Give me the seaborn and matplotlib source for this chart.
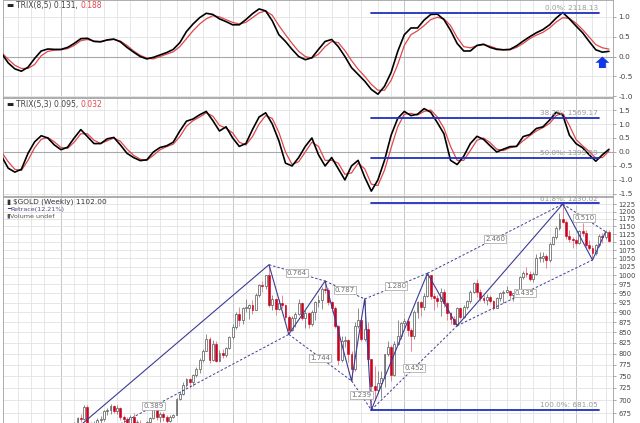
import numpy as np
import pandas as pd
import matplotlib
matplotlib.use('Agg')
import matplotlib.pyplot as plt
import matplotlib.dates as mdates
from matplotlib.ticker import NullLocator, NullFormatter
import seaborn as sns

sns.set_theme(style='white')
plt.rcParams['font.family'] = ['DejaVu Sans']

# ---------------- data ----------------
last_week = '2010-03-12'   # weekly bars, week ending Friday, Feb 2007 .. Mar 2010

opens = [
    650, 652, 666, 664, 686, 645, 652, 655, 661, 664, 678, 680, 689, 679, 684, 668, 664,
    656, 668, 655, 656, 654, 648, 658, 666, 682, 667, 673, 668, 660, 668, 672, 702, 712,
    731, 743, 737, 753, 765, 785, 806, 834, 786, 823, 784, 802, 797, 812,
    838, 862, 895, 881, 910, 912, 919, 906, 946, 973, 971, 1000, 920, 935, 908, 925, 918,
    888, 855, 885, 895, 925, 885, 898, 871, 902, 928, 932, 963, 958, 928, 912, 865, 786,
    829, 832, 800, 765, 865, 880, 835, 859, 787, 730, 720, 736, 745, 798, 814, 752, 823, 840,
    872, 878, 855, 840, 900, 927, 914, 942, 1000, 943, 938, 930, 955, 925, 898, 883, 870,
    912, 887, 915, 930, 955, 978, 955, 937, 933, 940, 930, 912, 937, 950, 955, 957, 946,
    950, 955, 996, 1006, 1003, 990, 1004, 1050, 1052, 1056, 1045, 1095, 1115, 1145, 1175,
    1165, 1120, 1110,
    1105, 1097, 1136, 1130, 1092, 1082, 1065, 1090, 1118, 1116, 1133]
highs = [
    657, 668, 673, 690, 690, 657, 660, 665, 669, 680, 684, 692, 691, 690, 687, 672, 667,
    671, 675, 662, 661, 656, 660, 668, 685, 686, 676, 677, 671, 672, 674, 705, 718, 738,
    747, 746, 755, 770, 790, 810, 845, 838, 832, 830, 808, 810, 814, 842,
    870, 900, 914, 915, 934, 922, 932, 952, 975, 983, 1002, 1031, 945, 938, 935, 946, 922,
    894, 890, 900, 936, 928, 905, 900, 907, 930, 946, 967, 988, 965, 930, 916, 867, 841,
    840, 835, 805, 875, 910, 885, 935, 875, 788, 772, 760, 760, 800, 830, 820, 830, 880, 875,
    885, 882, 860, 905, 930, 930, 950, 1007, 1002, 950, 945, 965, 962, 926, 900, 890, 915,
    915, 918, 933, 960, 982, 990, 963, 945, 947, 945, 932, 940, 955, 960, 970, 960, 952,
    960, 998, 1012, 1025, 1013, 1010, 1062, 1070, 1070, 1062, 1100, 1120, 1150, 1196, 1226,
    1170, 1138, 1115,
    1112, 1140, 1161, 1140, 1105, 1090, 1095, 1125, 1128, 1140, 1137]
lows = [
    645, 650, 658, 662, 637, 640, 645, 650, 655, 660, 672, 674, 675, 673, 662, 654, 652,
    653, 648, 650, 650, 640, 646, 656, 663, 662, 658, 660, 650, 658, 665, 671, 700, 710,
    728, 725, 730, 748, 757, 780, 805, 778, 783, 780, 783, 790, 792, 810,
    834, 858, 865, 870, 900, 884, 895, 905, 941, 955, 962, 915, 905, 893, 905, 910, 880,
    845, 853, 862, 893, 880, 860, 860, 865, 880, 915, 908, 950, 918, 900, 860, 775, 780,
    815, 780, 740, 760, 860, 828, 830, 780, 681, 700, 715, 705, 728, 795, 740, 750, 820, 835,
    860, 841, 805, 835, 885, 890, 905, 940, 935, 905, 915, 890, 915, 880, 870, 868, 866,
    882, 885, 908, 925, 950, 940, 930, 925, 920, 925, 905, 910, 930, 925, 950, 935, 930,
    940, 945, 990, 995, 985, 980, 1000, 1040, 1040, 1020, 1040, 1090, 1110, 1140, 1160,
    1110, 1100, 1080,
    1090, 1095, 1120, 1085, 1075, 1045, 1060, 1085, 1098, 1110, 1100]
closes = [
    652, 666, 664, 686, 645, 652, 655, 661, 664, 678, 680, 689, 679, 684, 668, 664, 656,
    668, 655, 656, 654, 648, 658, 666, 682, 667, 673, 668, 660, 668, 672, 702, 712, 731,
    743, 737, 753, 765, 785, 806, 834, 786, 823, 784, 802, 797, 812, 838,
    862, 895, 881, 910, 912, 919, 906, 946, 973, 971, 1000, 920, 935, 908, 925, 918, 888,
    855, 885, 895, 925, 885, 898, 871, 902, 928, 932, 963, 958, 928, 912, 865, 786, 829,
    832, 800, 765, 865, 880, 835, 859, 787, 730, 720, 736, 745, 798, 814, 752, 823, 840, 872,
    878, 855, 840, 900, 927, 914, 942, 1000, 943, 938, 930, 955, 925, 898, 883, 870, 912,
    887, 915, 930, 955, 978, 955, 937, 933, 940, 930, 912, 937, 950, 955, 957, 946, 950,
    955, 996, 1006, 1003, 990, 1004, 1050, 1052, 1056, 1045, 1095, 1115, 1145, 1175, 1165,
    1120, 1110, 1105,
    1097, 1136, 1130, 1092, 1082, 1065, 1090, 1118, 1116, 1133, 1102]

# TRIX readings, one every two weeks, ending at the last bar
trix85 = [
    0.25, 0.08, -0.16, -0.31, -0.37, -0.27, -0.05, 0.14, 0.19, 0.18,
    0.18, 0.23, 0.33, 0.45, 0.46, 0.38, 0.37, 0.42, 0.44, 0.37,
    0.23, 0.11, 0.0, -0.06, -0.02, 0.04, 0.10, 0.18, 0.35, 0.63,
    0.82, 0.98, 1.09, 1.06, 0.95, 0.88, 0.80, 0.80, 0.93, 1.08,
    1.20, 1.15, 0.90, 0.55, 0.38, 0.18, 0.0, -0.08, -0.03, 0.18,
    0.38, 0.43, 0.25, 0.0, -0.28, -0.45, -0.62, -0.83, -0.95, -0.75,
    -0.40, 0.13, 0.55, 0.72, 0.72, 0.92, 1.06, 1.07, 0.93, 0.66,
    0.33, 0.14, 0.14, 0.28, 0.31, 0.23, 0.18, 0.17, 0.18, 0.27,
    0.39, 0.50, 0.60, 0.68, 0.80, 0.97, 1.11, 0.95, 0.77, 0.60,
    0.38, 0.17, 0.11, 0.131]
trix85_signal = [
    0.22, 0.10, -0.07, -0.22, -0.30, -0.30, -0.20, 0.02, 0.13, 0.16,
    0.17, 0.20, 0.28, 0.40, 0.43, 0.39, 0.38, 0.41, 0.43, 0.39,
    0.28, 0.14, 0.03, -0.04, -0.06, 0.0, 0.06, 0.12, 0.25, 0.45,
    0.65, 0.82, 0.95, 1.03, 1.0, 0.93, 0.86, 0.82, 0.86, 0.98,
    1.10, 1.15, 1.04, 0.78, 0.55, 0.33, 0.13, 0.0, -0.04, 0.06,
    0.25, 0.38, 0.35, 0.15, -0.10, -0.32, -0.50, -0.70, -0.85, -0.85,
    -0.60, -0.20, 0.28, 0.55, 0.65, 0.78, 0.93, 0.99, 0.95, 0.78,
    0.48, 0.25, 0.22, 0.27, 0.30, 0.26, 0.20, 0.17, 0.17, 0.23,
    0.33, 0.45, 0.54, 0.61, 0.72, 0.87, 0.98, 0.96, 0.84, 0.68,
    0.49, 0.30, 0.22, 0.188]
trix53 = [
    0.10, -0.15, -0.58, -0.72, -0.62, -0.05, 0.36, 0.58, 0.50, 0.25,
    0.08, 0.17, 0.50, 0.80, 0.55, 0.30, 0.30, 0.47, 0.52, 0.25,
    -0.05, -0.20, -0.31, -0.28, 0.0, 0.16, 0.22, 0.35, 0.75, 1.10,
    1.18, 1.33, 1.45, 1.12, 0.75, 0.90, 0.50, 0.20, 0.30, 0.80,
    1.25, 1.40, 1.00, 0.40, -0.40, -0.50, -0.20, 0.20, 0.50, -0.10,
    -0.50, -0.20, -0.60, -1.00, -0.50, -0.30, -0.90, -1.40, -1.00, -0.30,
    0.60, 1.20, 1.45, 1.30, 1.35, 1.55, 1.42, 1.05, 0.65, -0.30,
    -0.45, -0.15, 0.30, 0.56, 0.45, 0.22, 0.0, 0.10, 0.19, 0.20,
    0.55, 0.62, 0.84, 0.90, 1.14, 1.42, 1.32, 0.60, 0.30, 0.15,
    -0.10, -0.33, -0.10, 0.095]
trix53_signal = [
    0.15, 0.0, -0.35, -0.62, -0.66, -0.30, 0.15, 0.45, 0.52, 0.36,
    0.16, 0.13, 0.35, 0.65, 0.65, 0.42, 0.30, 0.40, 0.50, 0.38,
    0.10, -0.12, -0.26, -0.30, -0.12, 0.08, 0.19, 0.28, 0.55, 0.92,
    1.12, 1.25, 1.40, 1.28, 0.95, 0.85, 0.68, 0.35, 0.25, 0.55,
    1.00, 1.30, 1.20, 0.70, 0.0, -0.45, -0.35, 0.0, 0.35, 0.20,
    -0.30, -0.30, -0.40, -0.80, -0.75, -0.40, -0.60, -1.15, -1.20, -0.65,
    0.15, 0.90, 1.35, 1.38, 1.32, 1.45, 1.50, 1.25, 0.85, 0.20,
    -0.30, -0.30, 0.05, 0.42, 0.50, 0.33, 0.10, 0.05, 0.15, 0.20,
    0.40, 0.58, 0.75, 0.87, 1.02, 1.30, 1.38, 0.95, 0.45, 0.22,
    0.02, -0.22, -0.20, 0.032]

# zigzag pivots and ratio labels of the legs skipping one pivot
pivot_dates = ['2006-10-06', '2008-03-21', '2008-05-02', '2008-07-18', '2008-09-12',
               '2008-10-10', '2008-10-24', '2009-02-20', '2009-04-24', '2009-12-04',
               '2010-02-05', '2010-03-05']
pivot_prices = [560, 1031, 845, 984, 740, 935, 681, 1006, 866, 1226, 1045, 1133]
leg_ratios = ['0.389', '0.764', '1.744', '0.787', '1.239', '1.280', '0.452',
              '2.460', '0.435', '0.510']

fib_labels = ['0.0%', '38.2%', '50.0%', '61.8%', '100.0%']
fib_prices = [2118.13, 1569.17, 1399.59, 1230.02, 681.05]
fib_start, fib_end = '2008-10-24', '2010-02-19'

price_ticks = list(range(675, 1226, 25))
trix_ticks1 = [-1.0, -0.5, 0.0, 0.5, 1.0]
trix_ticks2 = [-1.5, -1.0, -0.5, 0.0, 0.5, 1.0, 1.5]

# ---------------- layout ----------------
W, H = 640, 423
fig = plt.figure(figsize=(W / 100, H / 100), dpi=100)
fig.patch.set_facecolor('white')

def panel(top, bottom):
    ax = fig.add_axes([3 / W, 1 - bottom / H, 610 / W, (bottom - top) / H])
    ax.set_facecolor('none')
    return ax

ax1 = panel(0, 97)
ax2 = panel(98, 196)
ax3 = panel(197, 423)
ax3.set_zorder(5)

end = pd.Timestamp(last_week)
x_end = mdates.date2num(end)
x_left, x_right = x_end - 1285, x_end + 8.5

weeks = pd.date_range(end=last_week, periods=len(closes), freq='W-FRI')
xw = mdates.date2num(weeks)
trix_dates = pd.date_range(end=last_week, periods=len(trix85), freq='14D')
xt = mdates.date2num(trix_dates)

# month grid at the first bar of each month, darker at year start
fridays = pd.Series(pd.date_range(end - pd.Timedelta(days=1290), end + pd.Timedelta(days=9), freq='W-FRI'))
firsts = fridays.groupby([fridays.dt.year, fridays.dt.month]).first()

grid_c, year_c = '#e2e2e2', '#bdbdbd'
for ax in (ax1, ax2, ax3):
    for d in firsts:
        ax.axvline(mdates.date2num(d), color=year_c if d.month == 1 else grid_c,
                   lw=0.6, zorder=0)
    ax.set_xlim(x_left, x_right)
    ax.tick_params(axis='x', bottom=False, labelbottom=False)
    ax.yaxis.tick_right()
    ax.tick_params(axis='y', labelsize=5.3, labelcolor='#444', length=2, width=0.5,
                   color='#888', pad=2)
    for s in ax.spines.values():
        s.set_color('#a0a0a0')
        s.set_linewidth(0.6)

# ---------------- TRIX panels ----------------
for ax, ticks, lo, hi, blk, red in [
        (ax1, trix_ticks1, -1.02, 1.425, trix85, trix85_signal),
        (ax2, trix_ticks2, -1.575, 1.93, trix53, trix53_signal)]:
    for t in ticks:
        ax.axhline(t, color='#a8a8a8' if t == 0 else grid_c, lw=0.8 if t == 0 else 0.6, zorder=0)
    sns.lineplot(x=xt, y=red, ax=ax, color='#e0474c', lw=0.9, estimator=None, zorder=3)
    sns.lineplot(x=xt, y=blk, ax=ax, color='black', lw=1.2, estimator=None, zorder=4)
    ax.set_ylim(lo, hi)
    ax.set_yticks(ticks)
    ax.set_yticklabels([f'{t:.1f}' for t in ticks])
    ax.set_xlabel('')
    ax.set_ylabel('')
    ax.set_xlim(x_left, x_right)

# blue arrow at the latest bars
x_arrow = mdates.date2num(pd.Timestamp('2010-02-26'))
ax1.annotate('', xy=(x_arrow, 0.0), xytext=(x_arrow, -0.29),
             arrowprops=dict(arrowstyle='simple,head_length=0.45,head_width=1.0,tail_width=0.5',
                             mutation_scale=10, color='#1238e6', lw=0, shrinkA=0, shrinkB=0),
             zorder=6)

# ---------------- price panel ----------------
ax3.set_yscale('log')
ax3.set_ylim(656, 1251)
for t in price_ticks:
    ax3.axhline(t, color=grid_c, lw=0.6, zorder=0)
ax3.set_yticks(price_ticks)
ax3.set_yticklabels([str(t) for t in price_ticks])
ax3.yaxis.set_minor_locator(NullLocator())
ax3.yaxis.set_minor_formatter(NullFormatter())
ax3.tick_params(axis='y', labelsize=4.9)

o, h, l, c = (np.array(a, dtype=float) for a in (opens, highs, lows, closes))
up = c >= o
b_lo = np.minimum(o, c)
b_hi = np.maximum(np.maximum(o, c), b_lo * 1.003)
ax3.vlines(xw[up], l[up], h[up], color='#7a7a7a', lw=0.6, zorder=2)
ax3.vlines(xw[~up], l[~up], h[~up], color='#e27585', lw=0.6, zorder=2)
ax3.bar(xw[up], b_hi[up] - b_lo[up], bottom=b_lo[up], width=4.0,
        color='white', edgecolor='#555555', lw=0.5, zorder=3)
ax3.bar(xw[~up], b_hi[~up] - b_lo[~up], bottom=b_lo[~up], width=4.0,
        color='#d0021b', edgecolor='#c00018', lw=0.4, zorder=3)

navy = '#3b3b96'
pxd = mdates.date2num(pd.to_datetime(pivot_dates))
ax3.plot(pxd, pivot_prices, color=navy, lw=0.8, zorder=4)
for i, r in enumerate(leg_ratios):
    ax3.plot([pxd[i], pxd[i + 2]], [pivot_prices[i], pivot_prices[i + 2]],
             color=navy, lw=0.7, ls=(0, (2.5, 2)), zorder=4)
    mx = (pxd[i] + pxd[i + 2]) / 2
    my = np.sqrt(pivot_prices[i] * pivot_prices[i + 2])
    ax3.text(mx, my, r, fontsize=5.0, color='#707070', ha='center', va='center', zorder=6,
             bbox=dict(boxstyle='square,pad=0.15', fc='white', ec='#a0a0a0', lw=0.5))

# retracement levels run across all panels in price scale
fx0 = mdates.date2num(pd.Timestamp(fib_start))
fx1 = mdates.date2num(pd.Timestamp(fib_end))
for lab, p in zip(fib_labels, fib_prices):
    ax3.plot([fx0, fx1], [p, p], color='#1f2fbf', lw=1.3, clip_on=False, zorder=5)
    ax3.annotate(f'{lab}: {p:.2f}', xy=(fx1, p), xytext=(-1, 1.0), textcoords='offset points',
                 ha='right', va='bottom', fontsize=5.2, color='#9a9a9a', annotation_clip=False)

# ---------------- legends ----------------
def legend_row(ax, yfrac, parts, size=5.5, x0=0.006):
    prev = None
    for txt, col in parts:
        if prev is None:
            prev = ax.text(x0, yfrac, txt, transform=ax.transAxes, fontsize=size, color=col,
                           ha='left', va='top', zorder=7)
        else:
            prev = ax.annotate(txt, xy=(1, 0), xycoords=prev, fontsize=size, color=col,
                               ha='left', va='bottom', zorder=7)

legend_row(ax1, 0.985, [('▬ ', '#222'), ('TRIX(8,5) 0.131, ', '#444'), ('0.188', '#e0474c')])
legend_row(ax2, 0.975, [('▬ ', '#222'), ('TRIX(5,3) 0.095, ', '#444'), ('0.032', '#e0474c')])
legend_row(ax3, 0.99, [('▮ ', '#333'), (r'\$GOLD (Weekly) 1102.00', '#333')], size=5.3)
legend_row(ax3, 0.957, [('━', navy), ('Retrace(12.21%)', '#4a4a80')], size=4.6)
legend_row(ax3, 0.926, [('▮', '#555'), ('Volume undef', '#555')], size=4.6)

fig.savefig('out.png', dpi=100, facecolor='white')
